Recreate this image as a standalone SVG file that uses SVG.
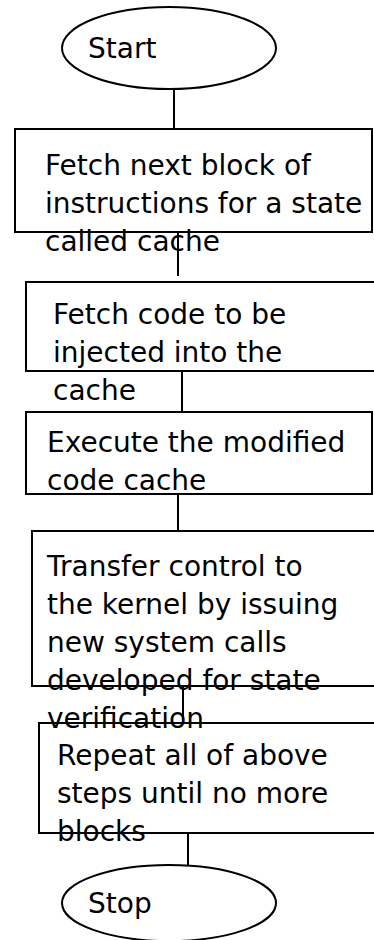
<svg xmlns="http://www.w3.org/2000/svg" width="374" height="940" viewBox="0 0 374 940">
  <style>
    .shape { fill: none; stroke: #000; stroke-width: 2; }
    .link { stroke: #000; stroke-width: 2; fill: none; }
    text { font-family: "DejaVu Sans", Verdana, sans-serif; font-size: 28px; fill: #000; }
  </style>
  <rect width="374" height="940" fill="#fff"/>

  <g id="connectors">
    <line class="link" x1="174" y1="89" x2="174" y2="129"/>
    <line class="link" x1="178" y1="232" x2="178" y2="276"/>
    <line class="link" x1="182" y1="371" x2="182" y2="412"/>
    <line class="link" x1="178" y1="494" x2="178" y2="531"/>
    <line class="link" x1="183" y1="686" x2="183" y2="723"/>
    <line class="link" x1="188" y1="833" x2="188" y2="865"/>
  </g>

  <g id="start">
    <ellipse class="shape" cx="169" cy="48" rx="107" ry="41"/>
    <text x="88" y="58">Start</text>
  </g>

  <g id="fetch-block">
    <rect class="shape" x="15" y="129" width="357" height="103"/>
    <text x="45" y="175">Fetch next block of</text>
    <text x="45" y="213">instructions for a state</text>
    <text x="45" y="251">called cache</text>
  </g>

  <g id="fetch-code">
    <rect class="shape" x="26" y="282" width="360" height="89"/>
    <text x="53" y="324">Fetch code to be</text>
    <text x="53" y="362">injected into the</text>
    <text x="53" y="400">cache</text>
  </g>

  <g id="execute">
    <rect class="shape" x="26" y="412" width="346" height="82"/>
    <text x="47" y="452">Execute the modified</text>
    <text x="47" y="490">code cache</text>
  </g>

  <g id="transfer">
    <rect class="shape" x="32" y="531" width="354" height="155"/>
    <text x="47" y="576">Transfer control to</text>
    <text x="47" y="614">the kernel by issuing</text>
    <text x="47" y="652">new system calls</text>
    <text x="47" y="690">developed for state</text>
    <text x="47" y="728">verification</text>
  </g>

  <g id="repeat">
    <rect class="shape" x="39" y="723" width="347" height="110"/>
    <text x="57" y="765">Repeat all of above</text>
    <text x="57" y="803">steps until no more</text>
    <text x="57" y="841">blocks</text>
  </g>

  <g id="stop">
    <ellipse class="shape" cx="169" cy="903" rx="107" ry="38"/>
    <text x="88" y="913">Stop</text>
  </g>
</svg>
